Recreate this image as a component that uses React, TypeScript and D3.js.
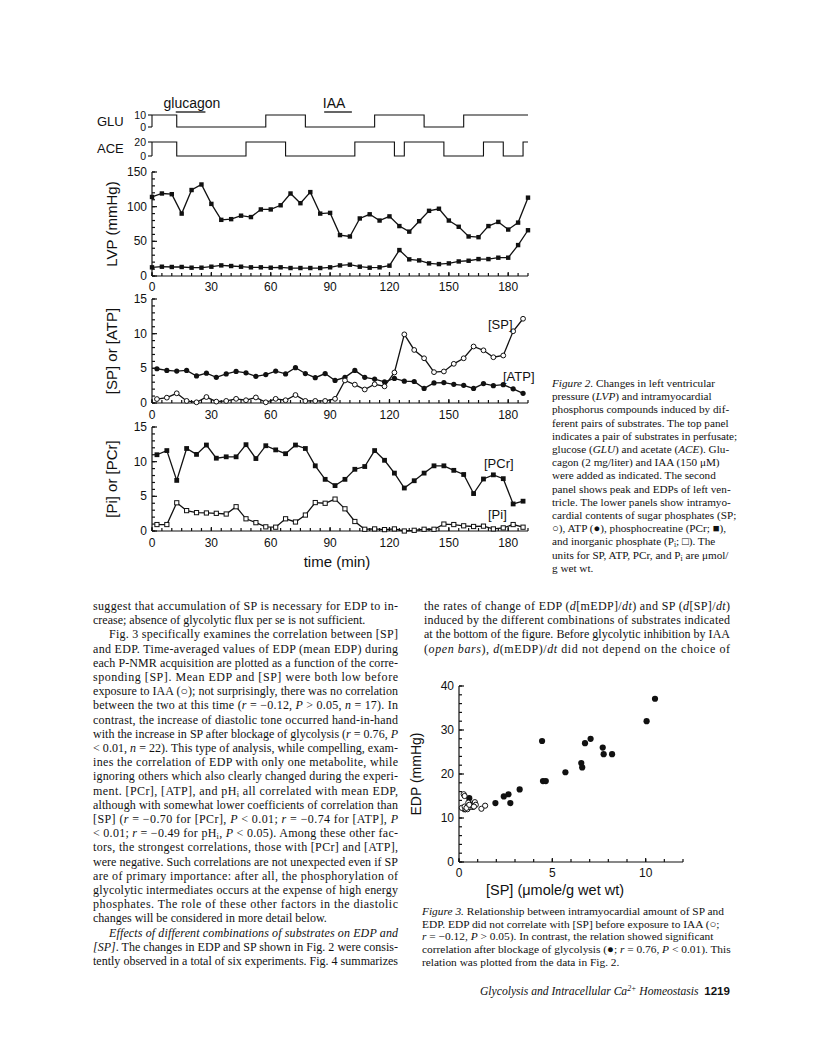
import React from "react";
import * as d3 from "d3";

// Fig. 2 data (time in min)
const lvpTimes = [0, 5, 10, 15, 20, 25, 30, 35, 40, 45, 50, 55, 60, 65, 70, 75, 80, 85, 90, 95, 100, 105, 110, 115, 120, 125, 130, 135, 140, 145, 150, 155, 160, 165, 170, 175, 180, 185, 190];
const lvpPeak = [114, 119, 118, 90, 124, 132, 104, 81, 82, 87, 85, 96, 96, 102, 119, 105, 121, 90, 91, 59, 57, 83, 89, 80, 86, 72, 64, 79, 94, 97, 80, 71, 57, 56, 72, 78, 67, 77, 113];
const lvpEdp = [12.5, 13.4, 13, 13, 12, 12, 13.4, 15.3, 14.4, 13.4, 12.5, 12.5, 12, 12.5, 11.5, 11.5, 11.5, 11.5, 12.5, 15.3, 16.3, 13.4, 12, 12.5, 14.9, 37.4, 24, 22.5, 18.2, 17.2, 18.2, 21, 22, 24.4, 24.4, 26.4, 26.4, 44.6, 66];

const nmrTimes = [2.5, 7.5, 12.5, 17.5, 22.5, 27.5, 32.5, 37.5, 42.5, 47.5, 52.5, 57.5, 62.5, 67.5, 72.5, 77.5, 82.5, 87.5, 92.5, 97.5, 102.5, 107.5, 112.5, 117.5, 122.5, 127.5, 132.5, 137.5, 142.5, 147.5, 152.5, 157.5, 162.5, 167.5, 172.5, 177.5, 182.5, 187.5];
const spValues = [0.57, 0.77, 1.4, 0.3, 0.1, 0.86, 0.2, 0.3, 0.6, 0.4, 0.8, 0.1, 0.6, 0.4, 1.15, 0.3, 0.3, 0.3, 0.6, 3.25, 2.65, 1.95, 2.7, 2.4, 4.4, 9.9, 7.65, 6.45, 4.45, 4.55, 5.65, 6.45, 8.15, 7.6, 6.6, 6.85, 10.35, 12.15];
const atpValues = [4.94, 4.7, 4.6, 4.7, 3.9, 4.3, 3.7, 4.2, 4.55, 4.35, 3.85, 4.1, 4.6, 4.2, 5.1, 4.25, 3.65, 4.25, 3.25, 3.7, 4.7, 3.7, 3.45, 3.05, 3.55, 3.15, 3.1, 2.1, 2.9, 2.95, 2.7, 2.55, 2.1, 2.8, 2.5, 2.65, 2.05, 1.4];
const pcrValues = [11.0, 11.6, 7.3, 11.9, 11.05, 12.4, 10.5, 10.7, 10.7, 12.45, 10.45, 12.3, 11.7, 11.15, 12.4, 11.9, 9.4, 7.45, 6.55, 7.45, 8.9, 9.3, 11.6, 10.2, 8.35, 6.2, 7.25, 8.35, 9.4, 9.4, 8.75, 8.15, 5.4, 7.5, 8.1, 7.55, 3.9, 4.3];
const piValues = [0.93, 0.93, 4.07, 2.94, 2.65, 2.6, 2.55, 2.45, 3.5, 1.76, 1.2, 0.6, 0.55, 1.76, 1.3, 2.3, 4.1, 4.0, 4.6, 3.2, 1.37, 0.25, 0.3, 0.2, 0.3, 0.0, 0.1, 0.25, 0.25, 1.0, 0.93, 0.75, 0.65, 0.7, 0.3, 0.45, 0.93, 0.55];

const gluTimes = [0, 12.5, 57.5, 77.5, 112.5, 137.5, 157.5, 190];
const gluLevels = [10, 0, 10, 0, 10, 0, 10, 10];
const aceTimes = [0, 12.5, 47.5, 67.5, 102.5, 122.5, 127.5, 147.5, 167.5, 177.5, 187.5, 190];
const aceLevels = [20, 0, 20, 0, 20, 0, 20, 0, 20, 0, 20, 20];

const timeTicks = [0, 30, 60, 90, 120, 150, 180];

// Fig. 3 data
const spBefore = [0.15, 0.25, 0.3, 0.35, 0.3, 0.45, 0.5, 0.6, 0.7, 0.75, 0.85, 0.9, 1.2, 1.4, 0.4, 0.55, 0.8];
const edpBefore = [12.3, 15.4, 15.0, 12.0, 12.6, 12.0, 13.5, 12.5, 13.0, 12.5, 13.6, 13.0, 12.1, 12.8, 12.3, 13.0, 12.6];
const spAfter = [10.5, 10.05, 4.45, 6.75, 7.05, 7.7, 7.75, 8.2, 6.55, 6.6, 5.7, 4.5, 4.65, 3.25, 2.65, 2.4, 2.75, 1.95, 0.55, 0.45, 0.3, 0.8];
const edpAfter = [37.1, 32.0, 27.5, 27.0, 28.0, 26.0, 24.5, 24.5, 22.5, 21.5, 20.4, 18.4, 18.4, 16.5, 15.4, 14.9, 13.4, 13.4, 14.5, 12.6, 12.0, 13.2];

// page text: [line, justified, indented]
const col1 = [
  ["suggest that accumulation of SP is necessary for EDP to in-", 1, 0],
  ["crease; absence of glycolytic flux per se is not sufficient.", 0, 0],
  ["Fig. 3 specifically examines the correlation between [SP]", 1, 1],
  ["and EDP. Time-averaged values of EDP (mean EDP) during", 1, 0],
  ["each P-NMR acquisition are plotted as a function of the corre-", 1, 0],
  ["sponding [SP]. Mean EDP and [SP] were both low before", 1, 0],
  ["exposure to IAA (○); not surprisingly, there was no correlation", 1, 0],
  ["between the two at this time (*r* = −0.12, *P* > 0.05, *n* = 17). In", 1, 0],
  ["contrast, the increase of diastolic tone occurred hand-in-hand", 1, 0],
  ["with the increase in SP after blockage of glycolysis (*r* = 0.76, *P*", 1, 0],
  ["< 0.01, *n* = 22). This type of analysis, while compelling, exam-", 1, 0],
  ["ines the correlation of EDP with only one metabolite, while", 1, 0],
  ["ignoring others which also clearly changed during the experi-", 1, 0],
  ["ment. [PCr], [ATP], and pH_{i} all correlated with mean EDP,", 1, 0],
  ["although with somewhat lower coefficients of correlation than", 1, 0],
  ["[SP] (*r* = −0.70 for [PCr], *P* < 0.01; *r* = −0.74 for [ATP], *P*", 1, 0],
  ["< 0.01; *r* = −0.49 for pH_{i}, *P* < 0.05). Among these other fac-", 1, 0],
  ["tors, the strongest correlations, those with [PCr] and [ATP],", 1, 0],
  ["were negative. Such correlations are not unexpected even if SP", 1, 0],
  ["are of primary importance: after all, the phosphorylation of", 1, 0],
  ["glycolytic intermediates occurs at the expense of high energy", 1, 0],
  ["phosphates. The role of these other factors in the diastolic", 1, 0],
  ["changes will be considered in more detail below.", 0, 0],
  ["*Effects of different combinations of substrates on EDP and*", 1, 1],
  ["*[SP]*. The changes in EDP and SP shown in Fig. 2 were consis-", 1, 0],
  ["tently observed in a total of six experiments. Fig. 4 summarizes", 1, 0],
];
const col2 = [
  ["the rates of change of EDP (*d*[mEDP]/*dt*) and SP (*d*[SP]/*dt*)", 1, 0],
  ["induced by the different combinations of substrates indicated", 1, 0],
  ["at the bottom of the figure. Before glycolytic inhibition by IAA", 1, 0],
  ["(*open bars*), *d*(mEDP)/*dt* did not depend on the choice of", 1, 0],
];
const fig2Caption = [
  "*Figure 2.* Changes in left ventricular",
  "pressure (*LVP*) and intramyocardial",
  "phosphorus compounds induced by dif-",
  "ferent pairs of substrates. The top panel",
  "indicates a pair of substrates in perfusate;",
  "glucose (*GLU*) and acetate (*ACE*). Glu-",
  "cagon (2 mg/liter) and IAA (150 μM)",
  "were added as indicated. The second",
  "panel shows peak and EDPs of left ven-",
  "tricle. The lower panels show intramyo-",
  "cardial contents of sugar phosphates (SP;",
  "○), ATP (●), phosphocreatine (PCr; ■),",
  "and inorganic phosphate (P_{i}; □). The",
  "units for SP, ATP, PCr, and P_{i} are μmol/",
  "g wet wt.",
];
const fig3Caption = [
  "*Figure 3.* Relationship between intramyocardial amount of SP and",
  "EDP. EDP did not correlate with [SP] before exposure to IAA (○;",
  "*r* = −0.12, *P* > 0.05). In contrast, the relation showed significant",
  "correlation after blockage of glycolysis (●; *r* = 0.76, *P* < 0.01). This",
  "relation was plotted from the data in Fig. 2.",
];

const SERIF = "'Liberation Serif', 'Times New Roman', serif";
const SANS = "'Liberation Sans', Arial, sans-serif";

// tiny markup: *italic*, _{sub}, ^{sup}
const Rich = ({ x, y, s, size, width = undefined, family = SERIF, italic = false, anchor = "start" }) => {
  const parts = s.split(/(\*[^*]+\*|_\{[^}]+\}|\^\{[^}]+\})/).filter((p) => p.length);
  let shift = 0;
  return (
    <text
      x={x}
      y={y}
      fontSize={size}
      fontFamily={family}
      fontStyle={italic ? "italic" : "normal"}
      textAnchor={anchor}
      textLength={width}
      lengthAdjust={width ? "spacing" : undefined}
    >
      {parts.map((p, i) => {
        const back = -shift;
        if (p.startsWith("_{") || p.startsWith("^{")) {
          const d = p.startsWith("_") ? 2 : -4;
          shift = d;
          return (
            <tspan key={i} dy={back + d} fontSize={size * 0.68}>
              {p.slice(2, -1)}
            </tspan>
          );
        }
        shift = 0;
        const dy = back !== 0 ? back : undefined;
        if (p.startsWith("*")) return <tspan key={i} dy={dy} fontStyle="italic">{p.slice(1, -1)}</tspan>;
        return <tspan key={i} dy={dy}>{p}</tspan>;
      })}
    </text>
  );
};

const Column = ({ lines, x, y0, width, step, size }) => (
  <g>
    {lines.map(([s, just, indent], i) => (
      <Rich
        key={i}
        x={x + (indent ? 16 : 0)}
        y={y0 + i * step}
        s={s}
        size={size}
        width={just ? width - (indent ? 16 : 0) : undefined}
      />
    ))}
  </g>
);

// axis helpers (ticks pointing inward)
const YAxis = ({ scale, x, major, minor }) => {
  const [d0, d1] = scale.domain();
  return (
    <g stroke="#111" strokeWidth={1.2} fill="none">
      <line x1={x} x2={x} y1={scale(d0)} y2={scale(d1)} />
      {minor.map((v) => (
        <line key={"m" + v} x1={x} x2={x + 3} y1={scale(v)} y2={scale(v)} />
      ))}
      {major.map((v) => (
        <line key={"M" + v} x1={x} x2={x + 5} y1={scale(v)} y2={scale(v)} />
      ))}
      {major.map((v) => (
        <text key={"t" + v} x={x - 5} y={scale(v) + 4} textAnchor="end" fontSize={12} fontFamily={SANS} fill="#111" stroke="none">
          {v}
        </text>
      ))}
    </g>
  );
};

const XAxis = ({ scale, y, major, minor, labelY }) => {
  const [d0, d1] = scale.domain();
  return (
    <g stroke="#111" strokeWidth={1.2} fill="none">
      <line x1={scale(d0)} x2={scale(d1)} y1={y} y2={y} />
      {minor.map((v) => (
        <line key={"m" + v} x1={scale(v)} x2={scale(v)} y1={y} y2={y - 3} />
      ))}
      {major.map((v) => (
        <line key={"M" + v} x1={scale(v)} x2={scale(v)} y1={y} y2={y - 4} />
      ))}
      {major.map((v) => (
        <text key={"t" + v} x={scale(v)} y={labelY} textAnchor="middle" fontSize={12} fontFamily={SANS} fill="#111" stroke="none">
          {v}
        </text>
      ))}
    </g>
  );
};

const Fig2 = () => {
  const x = d3.scaleLinear().domain([0, 190]).range([152, 528]);
  const yGlu = d3.scaleLinear().domain([0, 10]).range([127, 115]);
  const yAce = d3.scaleLinear().domain([0, 20]).range([156, 142]);
  const yLvp = d3.scaleLinear().domain([0, 150]).range([276, 172]);
  const ySp = d3.scaleLinear().domain([0, 15]).range([403, 299]);
  const yPcr = d3.scaleLinear().domain([0, 15]).range([531, 427]);

  const step = (times, y) =>
    d3.line<number>().x((_, i) => x(times[i])).y((d) => y(d)).curve(d3.curveStepAfter);
  const series = (times, y) => d3.line<number>().x((_, i) => x(times[i])).y((d) => y(d));

  const minorTime = d3.range(0, 191, 5);
  const lineStyle = { fill: "none", stroke: "#111", strokeWidth: 1.3 };

  return (
    <g>
      {/* top substrate panel */}
      <text x={192} y={108} textAnchor="middle" fontSize={14} fontFamily={SANS}>glucagon</text>
      <line x1={x(12)} x2={x(27)} y1={112} y2={112} stroke="#111" strokeWidth={1.3} />
      <text x={x(92)} y={108} textAnchor="middle" fontSize={14} fontFamily={SANS}>IAA</text>
      <line x1={x(87)} x2={x(101)} y1={112} y2={112} stroke="#111" strokeWidth={1.3} />

      <text x={97} y={126} fontSize={13} fontFamily={SANS}>GLU</text>
      <text x={146} y={119} textAnchor="end" fontSize={10.5} fontFamily={SANS}>10</text>
      <text x={146} y={131} textAnchor="end" fontSize={10.5} fontFamily={SANS}>0</text>
      <g stroke="#111" strokeWidth={1.1} fill="none">
        <line x1={x(0)} x2={x(0)} y1={yGlu(0)} y2={yGlu(10)} />
        <line x1={x(0) - 4} x2={x(0)} y1={yGlu(0)} y2={yGlu(0)} />
        <line x1={x(0) - 4} x2={x(0)} y1={yGlu(10)} y2={yGlu(10)} />
      </g>
      <path d={step(gluTimes, yGlu)(gluLevels)} {...lineStyle} strokeWidth={1.1} />

      <text x={97} y={153} fontSize={13} fontFamily={SANS}>ACE</text>
      <text x={146} y={146} textAnchor="end" fontSize={10.5} fontFamily={SANS}>20</text>
      <text x={146} y={160} textAnchor="end" fontSize={10.5} fontFamily={SANS}>0</text>
      <g stroke="#111" strokeWidth={1.1} fill="none">
        <line x1={x(0)} x2={x(0)} y1={yAce(0)} y2={yAce(20)} />
        <line x1={x(0) - 4} x2={x(0)} y1={yAce(0)} y2={yAce(0)} />
        <line x1={x(0) - 4} x2={x(0)} y1={yAce(20)} y2={yAce(20)} />
      </g>
      <path d={step(aceTimes, yAce)(aceLevels)} {...lineStyle} strokeWidth={1.1} />

      {/* LVP panel */}
      <YAxis scale={yLvp} x={x(0)} major={[0, 50, 100, 150]} minor={d3.range(0, 151, 10)} />
      <XAxis scale={x} y={yLvp(0)} major={timeTicks} minor={minorTime} labelY={291} />
      <text transform={`translate(117,224) rotate(-90)`} textAnchor="middle" fontSize={15} fontFamily={SANS}>LVP (mmHg)</text>
      <path d={series(lvpTimes, yLvp)(lvpPeak)} {...lineStyle} />
      <path d={series(lvpTimes, yLvp)(lvpEdp)} {...lineStyle} />
      {lvpTimes.map((t, i) => (
        <g key={t}>
          <rect x={x(t) - 2.2} y={yLvp(lvpPeak[i]) - 2.2} width={4.4} height={4.4} fill="#111" />
          <rect x={x(t) - 2.2} y={yLvp(lvpEdp[i]) - 2.2} width={4.4} height={4.4} fill="#111" />
        </g>
      ))}

      {/* SP / ATP panel */}
      <YAxis scale={ySp} x={x(0)} major={[0, 5, 10, 15]} minor={d3.range(0, 16, 1)} />
      <XAxis scale={x} y={ySp(0)} major={timeTicks} minor={minorTime} labelY={419} />
      <text transform={`translate(117,351) rotate(-90)`} textAnchor="middle" fontSize={15} fontFamily={SANS}>[SP] or [ATP]</text>
      <path d={series(nmrTimes, ySp)(atpValues)} {...lineStyle} />
      <path d={series(nmrTimes, ySp)(spValues)} {...lineStyle} />
      {nmrTimes.map((t, i) => (
        <g key={t}>
          <circle cx={x(t)} cy={ySp(atpValues[i])} r={2.6} fill="#111" />
          <circle cx={x(t)} cy={ySp(spValues[i])} r={2.4} fill="#fff" stroke="#111" strokeWidth={1} />
        </g>
      ))}
      <text x={488} y={329} fontSize={13} fontFamily={SANS}>[SP]</text>
      <text x={503} y={381} fontSize={13} fontFamily={SANS}>[ATP]</text>

      {/* Pi / PCr panel */}
      <YAxis scale={yPcr} x={x(0)} major={[0, 5, 10, 15]} minor={d3.range(0, 16, 1)} />
      <XAxis scale={x} y={yPcr(0)} major={timeTicks} minor={minorTime} labelY={547} />
      <text transform={`translate(117,479) rotate(-90)`} textAnchor="middle" fontSize={15} fontFamily={SANS}>[Pi] or [PCr]</text>
      <path d={series(nmrTimes, yPcr)(pcrValues)} {...lineStyle} />
      <path d={series(nmrTimes, yPcr)(piValues)} {...lineStyle} />
      {nmrTimes.map((t, i) => (
        <g key={t}>
          <rect x={x(t) - 2.4} y={yPcr(pcrValues[i]) - 2.4} width={4.8} height={4.8} fill="#111" />
          <rect x={x(t) - 2.1} y={yPcr(piValues[i]) - 2.1} width={4.2} height={4.2} fill="#fff" stroke="#111" strokeWidth={1} />
        </g>
      ))}
      <text x={484} y={468} fontSize={13} fontFamily={SANS}>[PCr]</text>
      <text x={488} y={519} fontSize={13} fontFamily={SANS}>[Pi]</text>

      <text x={337} y={567} textAnchor="middle" fontSize={15} fontFamily={SANS}>time (min)</text>
    </g>
  );
};

const Fig3 = () => {
  const xs = d3.scaleLinear().domain([0, 12]).range([459, 683]);
  const ys = d3.scaleLinear().domain([0, 40]).range([862, 686]);
  return (
    <g>
      <YAxis scale={ys} x={xs(0)} major={[0, 10, 20, 30, 40]} minor={d3.range(0, 41, 2)} />
      <XAxis scale={xs} y={ys(0)} major={[0, 5, 10]} minor={d3.range(0, 13, 1)} labelY={877} />
      <text transform={`translate(421,774) rotate(-90)`} textAnchor="middle" fontSize={14} fontFamily={SANS}>EDP (mmHg)</text>
      <text x={555} y={895} textAnchor="middle" fontSize={14.5} fontFamily={SANS}>[SP] (μmole/g wet wt)</text>
      {spAfter.map((v, i) => (
        <circle key={"a" + i} cx={xs(v)} cy={ys(edpAfter[i])} r={3.1} fill="#111" />
      ))}
      {spBefore.map((v, i) => (
        <circle key={"b" + i} cx={xs(v)} cy={ys(edpBefore[i])} r={2.6} fill="#fff" stroke="#111" strokeWidth={1} />
      ))}
    </g>
  );
};

export default function App() {
  return (
    <svg
      width={816}
      height={1064}
      style={{ position: "absolute", left: 0, top: 0, background: "#fff" }}
      fill="#111"
    >
      <rect width={816} height={1064} fill="#fff" />
      <Fig2 />
      <g>
        {fig2Caption.map((s, i) => (
          <Rich key={i} x={552} y={387 + i * 13.2} s={s} size={11.2} />
        ))}
      </g>
      <Column lines={col1} x={93} y0={610} width={305} step={14.2} size={12} />
      <Column lines={col2} x={424} y0={610} width={306} step={14.2} size={12} />
      <Fig3 />
      <g>
        {fig3Caption.map((s, i) => (
          <Rich key={i} x={422} y={915 + i * 12.7} s={s} size={11.4} />
        ))}
      </g>
      <Rich x={480} y={995} s="Glycolysis and Intracellular Ca^{2+} Homeostasis" size={11.6} italic />
      <text x={730} y={995} textAnchor="end" fontSize={11.6} fontWeight="bold" fontFamily={SANS}>1219</text>
    </svg>
  );
}
